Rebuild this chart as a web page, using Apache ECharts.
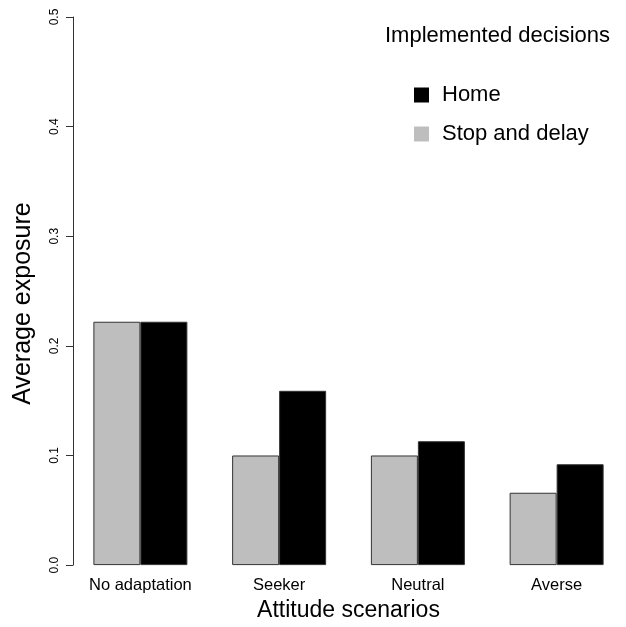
<!DOCTYPE html>
<html>
<head>
<meta charset="utf-8">
<script src="https://cdn.jsdelivr.net/npm/echarts@6/dist/echarts.min.js"></script>
<style>
html,body{margin:0;padding:0;background:#fff;overflow:hidden;}
#c{width:626px;height:627px;}
</style>
</head>
<body>
<div id="c"></div>
<script>
const categories = ['No adaptation', 'Seeker', 'Neutral', 'Averse'];
const stopDelay = [0.222, 0.100, 0.100, 0.066];
const home = [0.222, 0.159, 0.113, 0.092];
const yTicks = [0, 0.1, 0.2, 0.3, 0.4, 0.5];

const FONT = 'Liberation Sans';
const chart = echarts.init(document.getElementById('c'));
chart.setOption({
  animation: false,
  backgroundColor: '#fff',
  textStyle: { fontFamily: FONT, color: '#000' },
  title: {
    text: 'Implemented decisions',
    left: 385, top: 25,
    padding: 0,
    textStyle: { fontFamily: FONT, fontSize: 22, fontWeight: 'normal', color: '#000' }
  },
  legend: {
    data: ['Home', 'Stop and delay'],
    orient: 'vertical',
    left: 414, top: 84,
    padding: 0,
    icon: 'rect',
    itemWidth: 15, itemHeight: 15,
    itemGap: 17,
    itemStyle: { borderWidth: 0 },
    textStyle: { fontFamily: FONT, fontSize: 22, color: '#000', padding: [0, 0, 0, 8] }
  },
  grid: { left: 71, width: 562.7, top: 17, bottom: 57, containLabel: false },
  xAxis: {
    type: 'category',
    data: categories,
    axisLine: { show: false },
    axisTick: { show: false },
    axisLabel: { fontSize: 16.5, color: '#000', margin: 12, interval: 0 },
    name: 'Attitude scenarios',
    nameLocation: 'middle',
    nameGap: 25,
    nameTextStyle: { fontSize: 23, color: '#000', verticalAlign: 'top' }
  },
  yAxis: {
    type: 'value',
    min: yTicks[0], max: yTicks[yTicks.length - 1], interval: 0.1,
    offset: -2,
    splitLine: { show: false },
    axisLine: { show: true, lineStyle: { color: '#333', width: 1 } },
    axisTick: { show: true, length: 7, lineStyle: { color: '#333' } },
    axisLabel: { rotate: 90, fontSize: 12, color: '#000', margin: 12,
      formatter: v => v.toFixed(1) },
    name: 'Average exposure',
    nameLocation: 'middle',
    nameGap: 37,
    nameTextStyle: { fontSize: 25, color: '#000', padding: [0, 25, 0, 0] }
  },
  series: [
    { name: 'Stop and delay', type: 'bar', data: stopDelay, barWidth: 47, barGap: '0%',
      itemStyle: { color: '#bebebe', borderColor: '#333', borderWidth: 1 } },
    { name: 'Home', type: 'bar', data: home, barWidth: 47, barGap: '0%',
      itemStyle: { color: '#000', borderColor: '#333', borderWidth: 1 } }
  ]
});
</script>
</body>
</html>
